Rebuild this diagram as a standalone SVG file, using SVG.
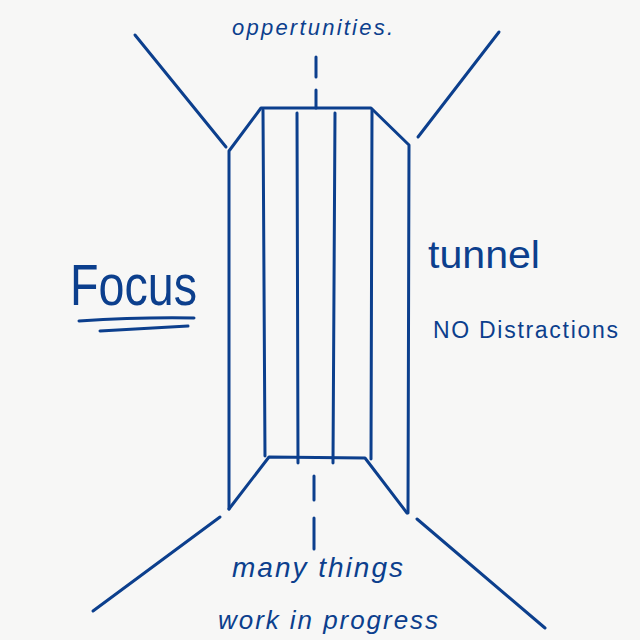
<svg xmlns="http://www.w3.org/2000/svg" width="640" height="640" viewBox="0 0 640 640">
<style>
.ln{fill:none;stroke:#0c3f8d;stroke-width:3;stroke-linecap:round;stroke-linejoin:round}
.t{fill:#0c3f8d;font-family:"Liberation Sans","DejaVu Sans",sans-serif}
.h{font-style:italic}
</style>
<rect width="640" height="640" fill="#f7f7f6"/>
<g id="connectors">
<path class="ln" d="M135,35 L226,147"/>
<path class="ln" d="M499,32 L418,137"/>
<path class="ln" d="M220,517 L93,611"/>
<path class="ln" d="M417,519 L545,628"/>
<path class="ln" d="M316,57 L316,77 M316,90 L316,108"/>
<path class="ln" d="M314,476 L314,500 M314,518 L314,549"/>
</g>
<g id="tunnel">
<path class="ln" d="M229,509 L229,151 L261,108 L371,108 L409,145 L408,513"/>
<path class="ln" d="M229,509 L269,457 L365,458 L407,513"/>
<path class="ln" d="M263,110 L265,456 M297,113 L298,463 M335,113 L333,463 M372,110 L371,459"/>
</g>
<g id="label-top"><text class="t h" x="232" y="35" font-size="22" textLength="161" lengthAdjust="spacing">oppertunities.</text></g>
<g id="label-focus">
<text class="t" x="70" y="305" font-size="58" textLength="127" lengthAdjust="spacingAndGlyphs">Focus</text>
<path class="ln" d="M79,321 Q140,317 194,318 M100,331 Q150,328 188,326"/>
</g>
<g id="label-tunnel"><text class="t" x="428" y="268" font-size="38" textLength="112" lengthAdjust="spacingAndGlyphs">tunnel</text></g>
<g id="label-nodistractions"><text class="t" x="433" y="338" font-size="23" textLength="185" lengthAdjust="spacing">NO Distractions</text></g>
<g id="label-bottom">
<text class="t h" x="232" y="577" font-size="28" textLength="171" lengthAdjust="spacing">many things</text>
<text class="t h" x="218" y="629" font-size="26" textLength="220" lengthAdjust="spacing">work in progress</text>
</g>
</svg>
